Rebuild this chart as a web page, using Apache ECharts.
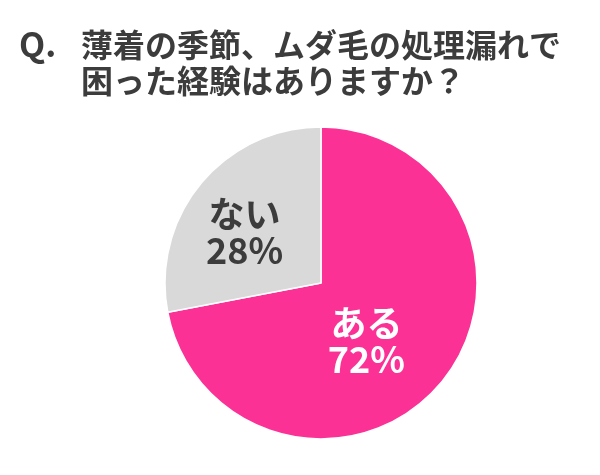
<!DOCTYPE html>
<html>
<head>
<meta charset="utf-8">
<script src="https://cdn.jsdelivr.net/npm/echarts@6/dist/echarts.min.js"></script>
<style>
  html, body { margin: 0; padding: 0; background: #fff; }
  #main { width: 600px; height: 475px; }
</style>
</head>
<body>
<div id="main"></div>
<script>
// data
var categories = ['ある', 'ない'];
var values = [72, 28];
var colors = ['#FB3196', '#D9D9D9'];
var labelColors = ['#ffffff', '#3c3c3c'];
// label nudges so text sits like the original
var labelOffsets = [[-17, 7], [-14, 1]];

var font = '"Noto Sans CJK JP", "Noto Sans", sans-serif';

var chart = echarts.init(document.getElementById('main'), null, { renderer: 'canvas' });

var pieData = categories.map(function (name, i) {
    return {
        name: name,
        value: values[i],
        itemStyle: { color: colors[i] },
        label: { color: labelColors[i], offset: labelOffsets[i] }
    };
});

chart.setOption({
    animation: false,
    title: [{
        text: 'Q.',
        left: 14,
        top: 22,
        textStyle: { fontFamily: font, fontSize: 34, fontWeight: 'bold', color: '#3c3c3c' }
    }, {
        text: '薄着の季節、ムダ毛の処理漏れで\n困った経験はありますか？',
        left: 76,
        top: 22,
        textStyle: { fontFamily: font, fontSize: 32, fontWeight: 'bold', color: '#3c3c3c', lineHeight: 36 }
    }],
    series: [{
        type: 'pie',
        center: [321, 283],
        radius: 156,
        startAngle: 90,
        clockwise: true,
        avoidLabelOverlap: false,
        itemStyle: { borderColor: '#ffffff', borderWidth: 1.5 },
        label: {
            position: 'inside',
            fontFamily: font,
            fontSize: 36,
            fontWeight: 'bold',
            lineHeight: 36,
            formatter: function (p) { return p.name + '\n' + p.value + '%'; }
        },
        labelLine: { show: false },
        emphasis: { disabled: true },
        data: pieData
    }]
});
</script>
</body>
</html>
